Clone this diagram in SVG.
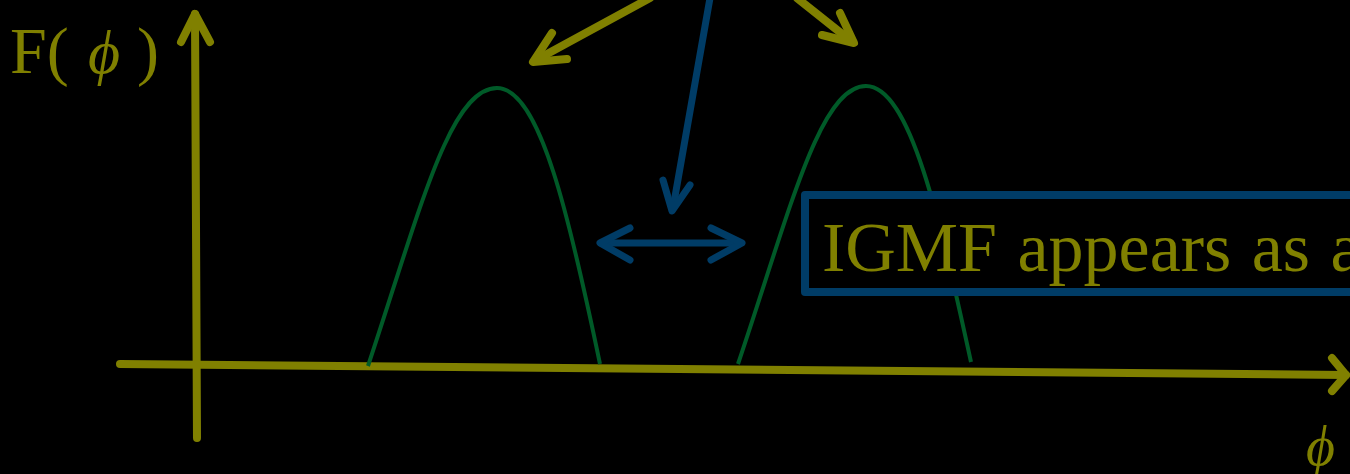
<svg xmlns="http://www.w3.org/2000/svg" width="1350" height="474" viewBox="0 0 1350 474">
<style>
.ax{stroke:#808000;stroke-width:8;fill:none;stroke-linecap:round;stroke-linejoin:round}
.bl{stroke:#003c66;stroke-width:7;fill:none;stroke-linecap:round;stroke-linejoin:round}
.gr{stroke:#005a28;stroke-width:4;fill:none}
.t{fill:#808000;font-family:"Liberation Serif","DejaVu Serif",serif}
</style>
<rect width="1350" height="474" fill="#000"/>
<g id="axes">
<line x1="197" y1="438" x2="195" y2="14" class="ax" stroke-linecap="butt"/>
<polyline points="181,42 195,14 210,42" class="ax"/>
<line x1="120" y1="364" x2="1346" y2="375" class="ax" stroke-linecap="butt"/>
<polyline points="1332,358 1346,375 1332,391" class="ax"/>
</g>
<g id="curves">
<path class="gr" d="M368,366 C420,210 450,88 497,88 C540,88 570,220 600,364"/>
<path class="gr" d="M738,364 C790,210 820,86 866,86 C910,86 940,220 971,362"/>
</g>
<g id="connectors">
<line x1="650" y1="-2" x2="536" y2="60" class="ax" stroke-width="7"/>
<polyline points="552,33 533,62 567,59" class="ax" stroke-width="7"/>
<line x1="797" y1="-2" x2="851" y2="41" class="ax" stroke-width="7"/>
<polyline points="840,13 854,43 822,35" class="ax" stroke-width="7"/>
<line x1="710" y1="-2" x2="673" y2="208" class="bl"/>
<polyline points="663,180 672,211 690,185" class="bl"/>
<line x1="601" y1="243" x2="740" y2="243" class="bl"/>
<polyline points="630,228 600,243 630,260" class="bl"/>
<polyline points="711,228 742,243 711,260" class="bl"/>
</g>
<g id="box">
<rect x="805" y="195" width="560" height="97" fill="#000" stroke="#003c66" stroke-width="8" stroke-linejoin="round"/>
<text x="822" y="271" class="t" font-size="70" word-spacing="3">IGMF appears as a</text>
</g>
<g id="labels">
<text x="10" y="73" class="t" font-size="66">F(</text>
<text x="88" y="73" class="t" font-size="62" font-style="italic">ϕ</text>
<text x="137" y="73" class="t" font-size="66">)</text>
<text x="1306" y="465" class="t" font-size="56" font-style="italic">ϕ</text>
</g>
</svg>
